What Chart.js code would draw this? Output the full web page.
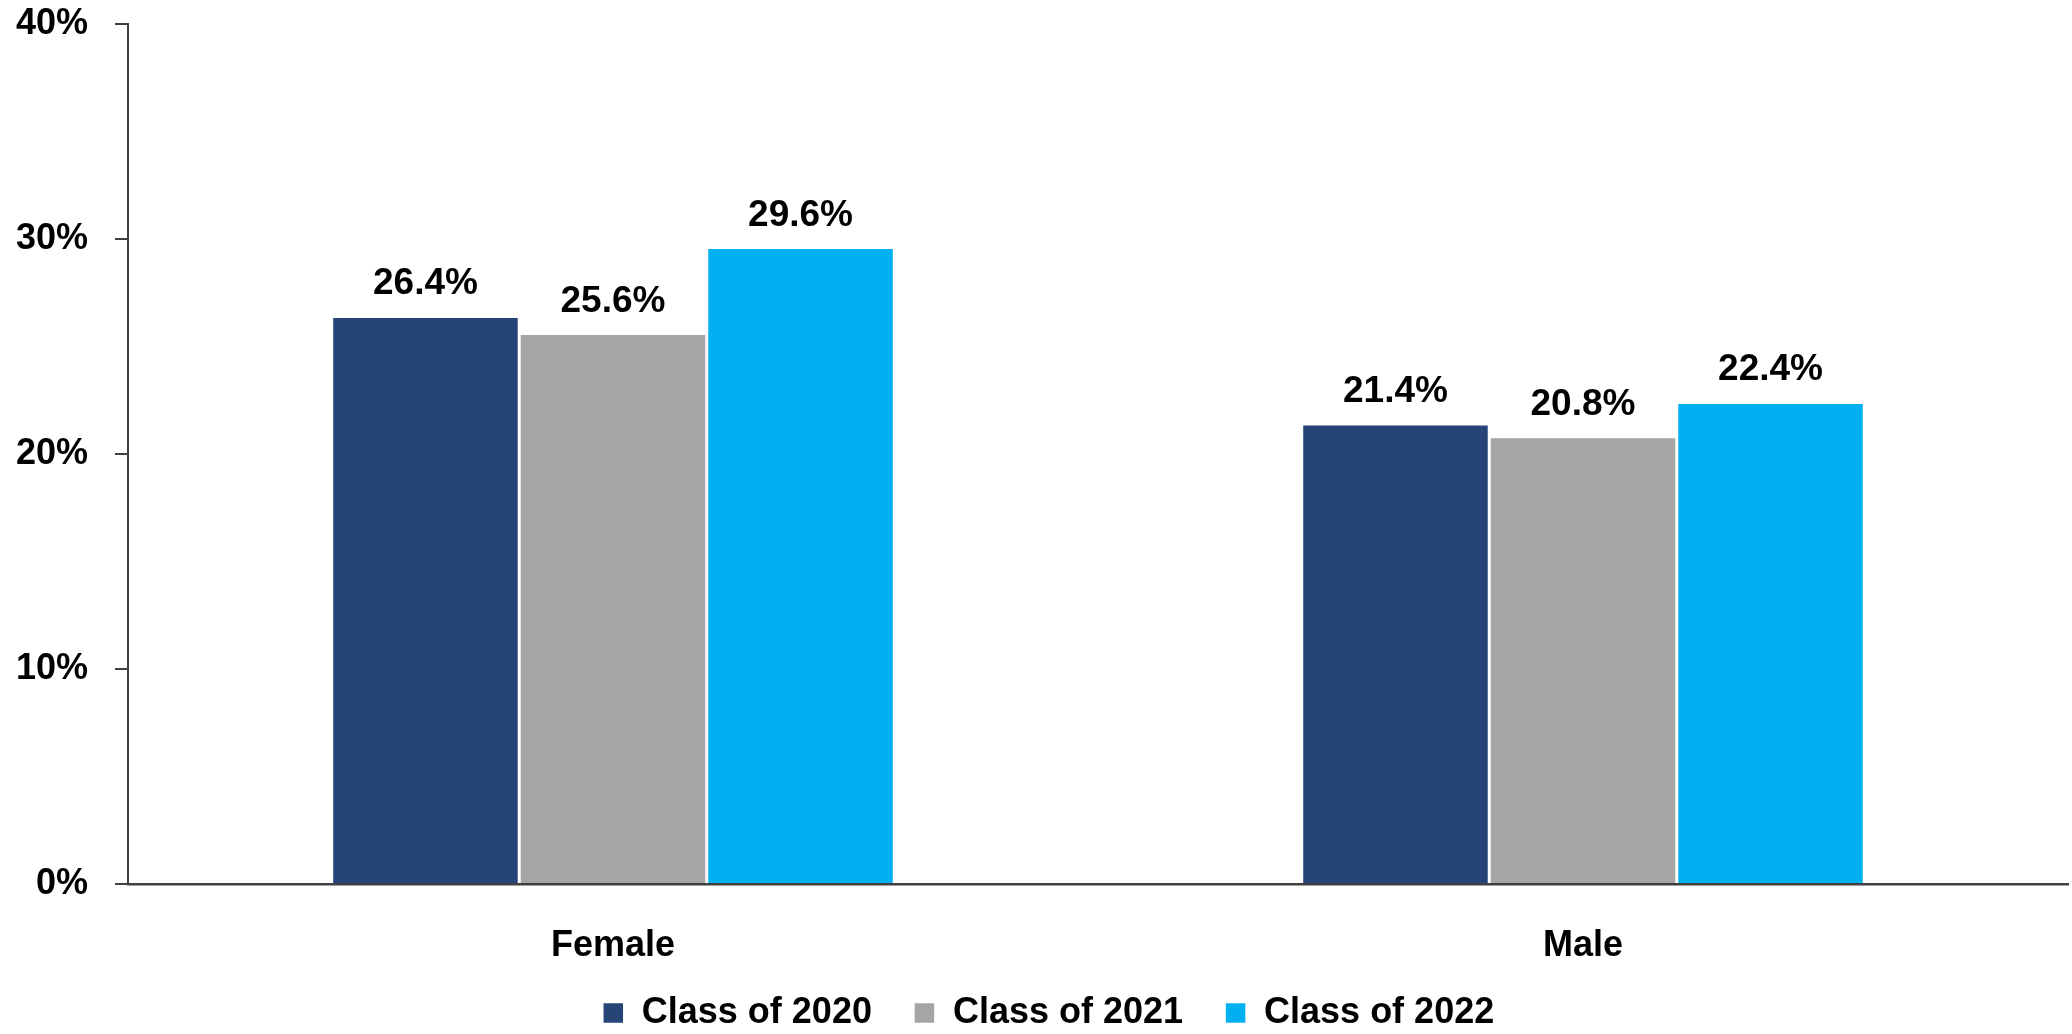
<!DOCTYPE html>
<html>
<head>
<meta charset="utf-8">
<script src="https://cdn.jsdelivr.net/npm/chart.js@4"></script>
<style>
    html, body { margin: 0; padding: 0; background: #fff; }
    #wrap { width: 2072px; height: 1034px; }
</style>
</head>
<body>
<div id="wrap"><canvas id="chart" width="2072" height="1034"></canvas></div>
<script>
// Chart data
const categories = ['Female', 'Male'];
const seriesNames = ['Class of 2020', 'Class of 2021', 'Class of 2022'];
const class2020 = [26.4, 21.4];
const class2021 = [25.6, 20.8];
const class2022 = [29.6, 22.4];
const yTicks = [0, 10, 20, 30, 40];

const colors = ['#264478', '#A5A5A5', '#00B0F0'];
const axisColor = '#404040';
const font = { family: '"Liberation Sans", Arial, sans-serif', weight: 'bold', size: 36 };

// Value labels above bars
const barLabels = {
    id: 'barLabels',
    afterDatasetsDraw(chart) {
        const ctx = chart.ctx;
        ctx.save();
        ctx.font = `bold 37px ${font.family}`;
        ctx.fillStyle = '#000';
        ctx.textAlign = 'center';
        ctx.textBaseline = 'alphabetic';
        chart.data.datasets.forEach((ds, i) => {
            chart.getDatasetMeta(i).data.forEach((bar, j) => {
                ctx.fillText(ds.data[j].toFixed(1) + '%', bar.x, bar.y - 22);
            });
        });
        ctx.restore();
    }
};

// Move the legend box to where it sits in the original (below the category labels)
const legendPlace = {
    id: 'legendPlace',
    afterLayout(chart) {
        const lg = chart.legend;
        lg.top = 953;
        lg.bottom = 1034;
        lg.height = 81;
        lg.left = 29;
        lg.width = lg.right - lg.left;
    }
};

new Chart(document.getElementById('chart'), {
    type: 'bar',
    data: {
        labels: categories,
        datasets: [class2020, class2021, class2022].map((values, i) => ({
            label: seriesNames[i],
            data: values,
            backgroundColor: colors[i],
            borderColor: '#ffffff',
            borderWidth: 1.5,
            categoryPercentage: 0.58,
            barPercentage: 1.0
        }))
    },
    options: {
        responsive: false,
        animation: false,
        layout: { padding: { left: 0, right: 4, top: 24, bottom: 0 } },
        plugins: {
            tooltip: { enabled: false },
            legend: {
                position: 'bottom',
                maxHeight: 40,
                labels: {
                    color: '#000',
                    font: font,
                    boxWidth: 21,
                    boxHeight: 21,
                    padding: 42
                }
            }
        },
        scales: {
            x: {
                grid: { display: false },
                border: { color: axisColor, width: 2.5 },
                ticks: { color: '#000', font: font, padding: 32 },
                afterFit(scale) { scale.height = 110; }
            },
            y: {
                min: 0,
                max: 40,
                afterBuildTicks(scale) { scale.ticks = yTicks.map(v => ({ value: v })); },
                grid: { drawOnChartArea: false, color: axisColor, lineWidth: 2, tickLength: 13 },
                border: { color: axisColor, width: 2 },
                ticks: { color: '#000', font: font, padding: 27, callback: v => v + '%' },
                afterFit(scale) {
                    scale.width = 128;
                    scale.paddingTop = 0;
                    scale.paddingBottom = 0;
                }
            }
        }
    },
    plugins: [barLabels, legendPlace]
});
</script>
</body>
</html>
